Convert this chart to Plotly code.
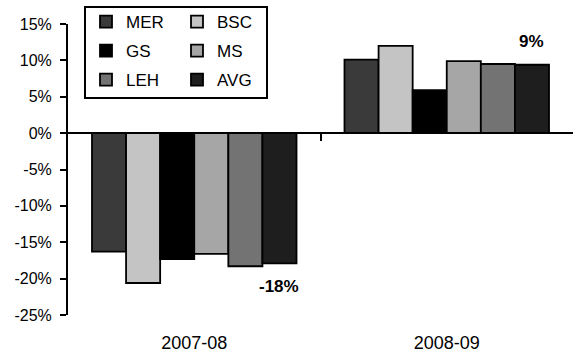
import plotly.graph_objects as go

# Fiscal years and per-bank changes (%)
periods = ["2007-08", "2008-09"]
banks = ["MER", "BSC", "GS", "MS", "LEH", "AVG"]
mer = [-16.3, 10.1]
bsc = [-20.6, 12.0]
gs = [-17.3, 5.9]
ms = [-16.6, 9.9]
leh = [-18.3, 9.5]
avg = [-17.9, 9.4]
avg_labels = ["-18%", "9%"]

colors = ["#3a3a3a", "#c4c4c4", "#000000", "#a6a6a6", "#737373", "#1e1e1e"]
series = [mer, bsc, gs, ms, leh, avg]

y_ticks = [15, 10, 5, 0, -5, -10, -15, -20, -25]
y_tick_text = [f"{v}%" for v in y_ticks]

W, H = 573, 354
BARGAP = 0.19
FONT = "Liberation Sans, Arial, Helvetica, sans-serif"

fig = go.Figure()

# legend layout: two columns of three rows inside a framed box
leg_left = [86, 177]
leg_rows = [22, 51, 80]
legend_layouts = {}
for i, (name, vals, col) in enumerate(zip(banks, series, colors)):
    key = "legend" if i == 0 else f"legend{i + 1}"
    fig.add_trace(go.Bar(
        x=periods, y=vals, name=name,
        marker=dict(color=col, line=dict(color="black", width=1.8)),
        legend=key,
    ))
    legend_layouts[key] = dict(
        xref="container", yref="container",
        x=leg_left[i % 2] / W, y=1 - leg_rows[i // 2] / H,
        xanchor="left", yanchor="middle",
        bgcolor="rgba(0,0,0,0)", borderwidth=0,
        font=dict(family=FONT, size=17, color="black"),
    )

# empty helper trace so the zero-level axis (with its category divider tick) is drawn
fig.add_trace(go.Scatter(x=[None], y=[None], xaxis="x2", yaxis="y",
                         showlegend=False, hoverinfo="skip"))

# value labels for the average series
n = len(banks)
offset = (1 - BARGAP) * ((n - 0.5) / n - 0.5)
for i, (v, lab) in enumerate(zip(avg, avg_labels)):
    fig.add_annotation(
        x=i + offset, y=v, xref="x", yref="y", text=f"<b>{lab}</b>",
        showarrow=False,
        yanchor="top" if v < 0 else "bottom",
        yshift=-12 if v < 0 else 12,
        font=dict(family=FONT, size=17, color="black"),
    )

# frame around the legend
fig.add_shape(type="rect", xref="paper", yref="paper",
              x0=(85 - 68) / (W - 68), x1=(267 - 68) / (W - 68),
              y0=(315 - 98) / (315 - 24), y1=(315 - 7) / (315 - 24),
              line=dict(color="black", width=2), fillcolor="rgba(0,0,0,0)")

fig.update_layout(
    width=W, height=H,
    margin=dict(l=68, r=0, t=24, b=39, autoexpand=False),
    paper_bgcolor="white", plot_bgcolor="white",
    showlegend=True,
    barmode="group", bargap=BARGAP, bargroupgap=0,
    font=dict(family=FONT, size=16, color="black"),
    xaxis=dict(
        type="category",
        showline=False, ticks="", showgrid=False, zeroline=False,
        tickfont=dict(size=18), ticklabelstandoff=15,
    ),
    xaxis2=dict(
        overlaying="x", anchor="free", position=25 / 40,
        range=[-0.5, 1.5], type="linear",
        showline=True, linecolor="black", linewidth=2,
        ticks="outside", tickvals=[0.5], ticklen=7, tickwidth=2, tickcolor="black",
        showticklabels=False, showgrid=False, zeroline=False,
    ),
    yaxis=dict(
        range=[-25, 15], tickvals=y_ticks, ticktext=y_tick_text,
        showline=True, linecolor="black", linewidth=2,
        ticks="outside", ticklen=6, tickwidth=2, tickcolor="black",
        showgrid=False, zeroline=False, tickfont=dict(size=16),
        ticklabelstandoff=5,
    ),
    **legend_layouts,
)

fig.write_html("out.html")
